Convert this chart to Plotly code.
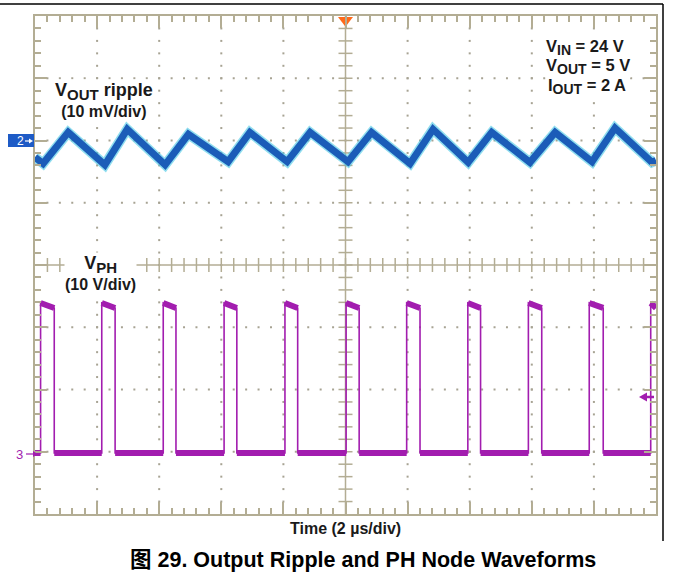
import plotly.graph_objects as go

W, H = 673, 588

# ---------------- data ----------------
time_range_us = [0, 20]            # 10 div x 2 us/div
div_range = [-4, 4]                # 8 vertical divisions

# VOUT ripple (mV, relative to channel-2 marker)
vout_valley_t = [0.26, 2.25, 4.19, 6.22, 8.12, 10.08, 12.08, 13.95, 15.94, 17.94, 19.87]
vout_valley_mv = [-3.7, -3.9, -3.9, -3.4, -3.4, -3.4, -3.7, -3.5, -3.5, -3.4, -3.5]
vout_peak_t = [1.07, 2.97, 4.94, 6.92, 8.86, 10.84, 12.82, 14.71, 16.75, 18.68]
vout_peak_mv = [1.3, 1.8, 1.0, 1.3, 1.3, 1.3, 1.8, 1.3, 1.3, 2.0]
vout_start_mv = -2.7
vout_end_mv = -3.2

# PH node (V, relative to channel-3 marker)
ph_rise_t = [0.18, 2.15, 4.13, 6.09, 8.05, 10.02, 11.97, 13.94, 15.89, 17.85, 19.83]
ph_fall_t = [0.62, 2.58, 4.54, 6.50, 8.46, 10.44, 12.40, 14.35, 16.32, 18.30]
ph_low_v = -0.2
ph_high_start_v = 23.9
ph_high_end_v = 23.1

# channel scales
vout_mv_per_div = 10
vout_marker_div = 2
ph_v_per_div = 10
ph_marker_div = -3

# ---------------- styles ----------------
TAN = "#B3AD94"
DOT = "#A7A393"
BLUE = "#1B5CB8"
CYAN = "#45C8E6"
PURPLE = "#A21DAF"
TXT = "#1A1A1A"
FONT = "Liberation Sans, Arial, Noto Sans CJK SC, sans-serif"

X0, X1, Y0, Y1 = 35, 656, 16, 514   # plot area in pixels


def px(x):
    return x / W


def py(y):
    return 1 - y / H


# ---------------- build paths ----------------
vt = [time_range_us[0]]
vv = [vout_start_mv]
for i, t in enumerate(vout_valley_t):
    vt.append(t)
    vv.append(vout_valley_mv[i])
    if i < len(vout_peak_t):
        vt.append(vout_peak_t[i])
        vv.append(vout_peak_mv[i])
vt.append(time_range_us[1])
vv.append(vout_end_mv)

pt = [time_range_us[0]]
pv = [ph_low_v]
thick_t, thick_v = [time_range_us[0]], [ph_low_v]
for i, r in enumerate(ph_rise_t):
    pt += [r, r]
    pv += [ph_low_v, ph_high_start_v]
    thick_t += [r, None, r]
    thick_v += [ph_low_v, None, ph_high_start_v]
    if i < len(ph_fall_t):
        f = ph_fall_t[i]
        pt += [f, f]
        pv += [ph_high_end_v, ph_low_v]
        thick_t += [f, None, f]
        thick_v += [ph_high_end_v, None, ph_low_v]
    else:
        pt.append(time_range_us[1])
        pv.append(ph_high_end_v)
        thick_t.append(time_range_us[1])
        thick_v.append(ph_high_end_v)

fig = go.Figure()

# dotted graticule
gx, gy = [], []
for k in range(1, 10):
    if k == 5:
        continue
    xv = k * 2
    for m in range(1, 40):
        gx.append(xv)
        gy.append(-4 + m * 0.2)
for k in [-3, -2, -1, 1, 2, 3]:
    for m in range(1, 50):
        gx.append(m * 0.4)
        gy.append(k)
fig.add_trace(go.Scatter(x=gx, y=gy, mode="markers", hoverinfo="skip",
                         marker=dict(symbol="square", size=2, color=DOT),
                         showlegend=False))

# center cross ticks
fig.add_trace(go.Scatter(x=[10] * 39, y=[-4 + m * 0.2 for m in range(1, 40)], mode="markers",
                         marker=dict(symbol="line-ew", size=10, line=dict(width=1.5, color=TAN)),
                         hoverinfo="skip", showlegend=False))
fig.add_trace(go.Scatter(x=[m * 0.4 for m in range(1, 50)], y=[0] * 49, mode="markers",
                         marker=dict(symbol="line-ns", size=10, line=dict(width=1.5, color=TAN)),
                         hoverinfo="skip", showlegend=False))

# VOUT trace
fig.add_trace(go.Scatter(x=vt, y=vv, yaxis="y2", mode="lines",
                         line=dict(color=CYAN, width=10), opacity=0.6, showlegend=False))
fig.add_trace(go.Scatter(x=vt, y=vv, yaxis="y2", mode="lines",
                         line=dict(color=BLUE, width=7), showlegend=False))

# PH trace
fig.add_trace(go.Scatter(x=pt, y=pv, yaxis="y3", mode="lines",
                         line=dict(color=PURPLE, width=1.6), showlegend=False))
fig.add_trace(go.Scatter(x=thick_t, y=thick_v, yaxis="y3", mode="lines",
                         line=dict(color=PURPLE, width=6), connectgaps=False, showlegend=False))

# trigger-position triangle
fig.add_trace(go.Scatter(x=[10], y=[3.93], mode="markers", cliponaxis=False,
                         marker=dict(symbol="triangle-down", size=13, color="#FF6A1A"),
                         hoverinfo="skip", showlegend=False))

axis_common = dict(showgrid=False, zeroline=False, showticklabels=False,
                   showline=True, linecolor=TAN, linewidth=2, mirror="ticks",
                   ticks="inside", ticklen=12, tickwidth=1.5, tickcolor=TAN)

fig.update_layout(
    width=W, height=H, autosize=False,
    margin=dict(l=0, r=0, t=0, b=0, pad=0),
    paper_bgcolor="white", plot_bgcolor="white",
    xaxis=dict(range=time_range_us, domain=[px(X0), px(X1)], dtick=2, tick0=0,
               minor=dict(ticks="inside", ticklen=6, dtick=0.4, tickwidth=1.5, tickcolor=TAN),
               **axis_common),
    yaxis=dict(range=div_range, domain=[py(Y1), py(Y0)], dtick=1, tick0=0,
               minor=dict(ticks="inside", ticklen=6, dtick=0.2, tickwidth=1.5, tickcolor=TAN),
               **axis_common),
    yaxis2=dict(overlaying="y", visible=False,
                range=[(div_range[0] - vout_marker_div) * vout_mv_per_div,
                       (div_range[1] - vout_marker_div) * vout_mv_per_div]),
    yaxis3=dict(overlaying="y", visible=False,
                range=[(div_range[0] - ph_marker_div) * ph_v_per_div,
                       (div_range[1] - ph_marker_div) * ph_v_per_div]),
    showlegend=False,
)

# center lines
fig.add_shape(type="line", xref="x", yref="y", x0=10, x1=10, y0=-4, y1=4,
              line=dict(color=TAN, width=1.5), layer="below")
fig.add_shape(type="line", xref="x", yref="y", x0=0, x1=20, y0=0, y1=0,
              line=dict(color=TAN, width=1.5), layer="below")

# page border lines
fig.add_shape(type="line", xref="paper", yref="paper", x0=0, x1=px(663), y0=py(4), y1=py(4),
              line=dict(color="black", width=1.5))
fig.add_shape(type="line", xref="paper", yref="paper", x0=px(663), x1=px(663), y0=py(4), y1=py(541),
              line=dict(color="black", width=1.5))

# channel 2 marker box
fig.add_shape(type="rect", xref="paper", yref="paper", x0=px(8), x1=px(34), y0=py(147), y1=py(134),
              fillcolor="#1E5BC6", line=dict(width=0))


def seg(x0, x1, y, color, width):
    fig.add_shape(type="line", xref="paper", yref="paper", x0=px(x0), x1=px(x1),
                  y0=py(y), y1=py(y), line=dict(color=color, width=width))


def head(xtip, y, length, half, color):
    # length > 0 : pointing right, < 0 : pointing left
    xb = xtip - length
    path = "M %f,%f L %f,%f L %f,%f Z" % (px(xtip), py(y), px(xb), py(y - half), px(xb), py(y + half))
    fig.add_shape(type="path", xref="paper", yref="paper", path=path,
                  fillcolor=color, line=dict(width=0))


def ann(x, y, text, size, color=TXT, xanchor="center", bg=None):
    fig.add_annotation(xref="paper", yref="paper", x=px(x), y=py(y), text=text,
                       showarrow=False, xanchor=xanchor, yanchor="middle", align="center",
                       font=dict(family=FONT, size=size, color=color),
                       bgcolor=bg if bg else "rgba(0,0,0,0)", borderpad=0)


def sub(s, size):
    return '<sub><span style="font-size:%dpx">%s</span></sub>' % (size, s)


def big(s, size):
    return '<span style="font-size:%dpx">%s</span>' % (size, s)


# channel markers
ann(20, 141, "2", 12, color="white")
seg(25, 30, 141, "white", 1.2)
head(33, 141, 4, 2.5, "white")
ann(19.5, 454, "3", 13, color=PURPLE)
seg(26, 34, 454, PURPLE, 1.2)
head(37.5, 454, 4.5, 3, PURPLE)
# trigger level marker (right)
seg(645, 654, 397, PURPLE, 2.5)
head(639, 397, -8, 4.5, PURPLE)

ann(104, 100, "<b>" + big("V" + sub("OUT", 15) + " ripple", 18) + "<br>(10 mV/div)</b>", 16, bg="white")
ann(100, 273, "<b>" + big("V" + sub("PH", 15), 18) + "<br>(10 V/div)</b>", 16, bg="white")
ann(545, 47, "<b>V" + sub("IN", 14) + " = 24 V</b>", 16.5, xanchor="left", bg="white")
ann(545, 67, "<b>V" + sub("OUT", 14) + " = 5 V</b>", 16.5, xanchor="left", bg="white")
ann(547, 86, "<b>I" + sub("OUT", 14) + " = 2 A</b>", 16.5, xanchor="left", bg="white")
ann(346, 528, "<b>Time (2 µs/div)</b>", 16)
ann(363, 560, "<b>图 29. Output Ripple and PH Node Waveforms</b>", 21.5, color="black")

fig.write_html("out.html", post_script="document.body.style.margin='0px';",
               config={"displayModeBar": False})
